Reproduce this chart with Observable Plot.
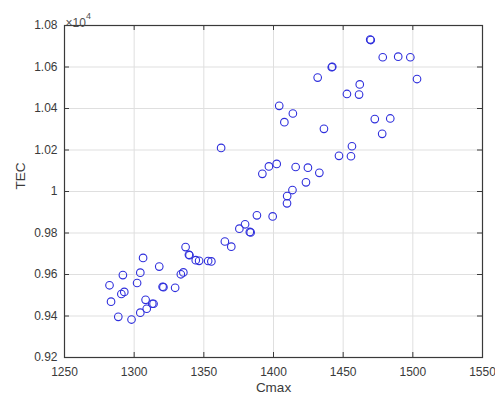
<!DOCTYPE html>
<html><head><meta charset="utf-8">
<script src="https://cdn.jsdelivr.net/npm/d3@7"></script>
<script src="https://cdn.jsdelivr.net/npm/@observablehq/plot@0.6"></script>
<style>body{margin:0;background:#fff}</style>
</head><body><div id="chart"></div>
<script>
const cmax = [1282.3,1283.4,1288.6,1291.9,1290.8,1292.9,1298.1,1302.1,1304.4,1306.4,1308.2,1309.0,1304.4,1313.0,1313.9,1318.0,1320.4,1321.0,1329.4,1333.5,1335.3,1336.9,1339.3,1339.7,1344.2,1346.6,1353.1,1355.4,1365.1,1369.7,1375.5,1379.6,1383.6,1383.0,1388.1,1399.4,1409.7,1409.8,1413.6,1423.3,1392.0,1396.7,1402.3,1415.9,1424.7,1432.9,1447.0,1455.6,1456.3,1478.0,1472.7,1483.8,1436.2,1404.1,1413.9,1407.8,1452.7,1461.4,1461.9,1431.7,1441.8,1442.2,1469.4,1469.8,1478.4,1489.5,1498.2,1503.0,1362.4];
const tec = [9548,9469,9396,9597,9506,9516,9383,9559,9609,9680,9478,9435,9416,9459,9459,9638,9541,9539,9536,9601,9610,9732,9695,9693,9669,9666,9665,9663,9759,9734,9821,9842,9803,9805,9885,9880,9943,9978,10007,10044,10085,10121,10133,10118,10115,10090,10172,10170,10218,10278,10349,10352,10302,10413,10376,10334,10470,10467,10516,10549,10599,10601,10732,10730,10647,10650,10647,10542,10210];
const xTicks = [1250,1300,1350,1400,1450,1500,1550];
const yTicks = [9200,9400,9600,9800,10000,10200,10400,10600,10800];
const xLabel = "Cmax";
const yLabel = "TEC";
const exponentBase = "×10";
const exponentPower = "4";

const points = cmax.map((c, i) => ({cmax: c, tec: tec[i]}));
const fmtY = v => String(+(v / 1e4).toFixed(2));
const axisColor = "#3a3a3a";
const W = 495, H = 400, mL = 64, mR = 13, mT = 25, mB = 43;
const fw = W - mL - mR, fh = H - mT - mB, tk = 5;

const chart = Plot.plot({
  width: W, height: H,
  marginLeft: mL, marginRight: mR, marginTop: mT, marginBottom: mB,
  style: {fontFamily: "'Liberation Sans', Arial, sans-serif", fontSize: "12px", color: axisColor, background: "#fff"},
  x: {domain: [1250, 1550]},
  y: {domain: [9200, 10800]},
  marks: [
    Plot.gridX({ticks: xTicks, stroke: "#dfdfdf", strokeOpacity: 1}),
    Plot.gridY({ticks: yTicks, stroke: "#dfdfdf", strokeOpacity: 1}),
    Plot.tickX(xTicks, {x: d => d, insetTop: fh - tk, stroke: axisColor}),
    Plot.tickX(xTicks, {x: d => d, insetBottom: fh - tk, stroke: axisColor}),
    Plot.tickY(yTicks, {y: d => d, insetRight: fw - tk, stroke: axisColor}),
    Plot.tickY(yTicks, {y: d => d, insetLeft: fw - tk, stroke: axisColor}),
    Plot.axisX({ticks: xTicks, anchor: "bottom", tickSize: 0, tickPadding: 10, label: null, tickFormat: d => String(d)}),
    Plot.axisY({ticks: yTicks, anchor: "left", tickSize: 0, tickPadding: 7, label: null, tickFormat: fmtY}),
    Plot.frame({stroke: axisColor, strokeWidth: 1.2}),
    Plot.dot(points, {x: "cmax", y: "tec", r: 3.8, stroke: "#2f2fdc", strokeWidth: 1.1, fill: "none"}),
    Plot.text([xLabel], {text: d => d, frameAnchor: "bottom", dy: 34, fontSize: 13.5, fill: axisColor}),
    Plot.text([yLabel], {text: d => d, frameAnchor: "left", dx: -44, dy: -2, rotate: -90, fontSize: 13.5, fill: axisColor}),
    Plot.text([exponentBase], {text: d => d, frameAnchor: "top-left", textAnchor: "start", dx: 1, dy: -7, fontSize: 12, fill: "#505050"}),
    Plot.text([exponentPower], {text: d => d, frameAnchor: "top-left", textAnchor: "start", dx: 21.5, dy: -13, fontSize: 9, fill: "#505050"})
  ]
});
document.getElementById("chart").appendChild(chart);
</script>
</body></html>
